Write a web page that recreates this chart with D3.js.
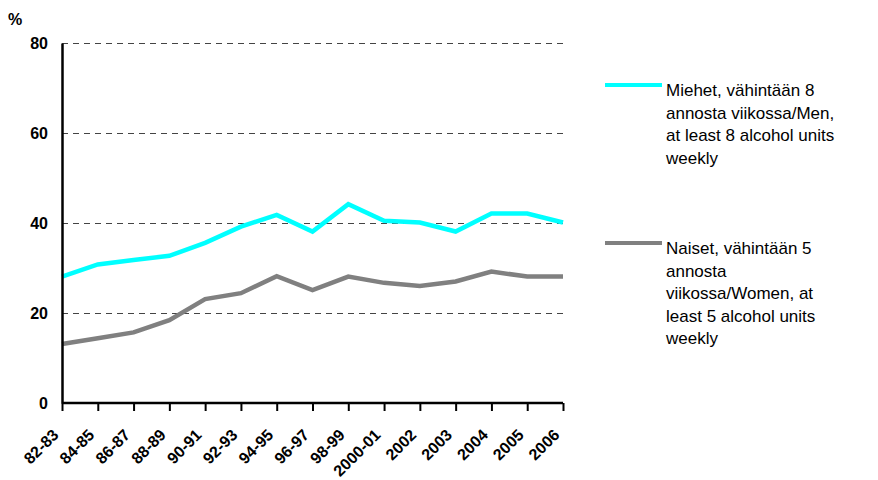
<!DOCTYPE html>
<html>
<head>
<meta charset="utf-8">
<script src="https://cdn.jsdelivr.net/npm/d3@7"></script>
<style>
  body { margin: 0; background: #fff; }
  svg { font-family: Arial, "Liberation Sans", sans-serif; }
</style>
</head>
<body>
<svg id="chart"></svg>
<script>
// data
const years = ["82-83","84-85","86-87","88-89","90-91","92-93","94-95","96-97","98-99","2000-01","2002","2003","2004","2005","2006"];
const men   = [28.1, 30.8, 31.8, 32.7, 35.6, 39.2, 41.8, 38.1, 44.2, 40.5, 40.1, 38.1, 42.1, 42.1, 40.1];
const women = [13.1, 14.4, 15.7, 18.4, 23.1, 24.4, 28.2, 25.1, 28.1, 26.7, 26.0, 27.0, 29.2, 28.1, 28.1];
const yTicks = [0, 20, 40, 60, 80];
const menLabel = ["Miehet, vähintään 8", "annosta viikossa/Men,", "at least 8 alcohol units", "weekly"];
const womenLabel = ["Naiset, vähintään 5", "annosta", "viikossa/Women, at", "least 5 alcohol units", "weekly"];

const W = 878, H = 480;
const margin = { left: 62, top: 43, right: 315, bottom: 77 };
const FONT = "Arial, 'Liberation Sans', sans-serif";

const svg = d3.select("#chart").attr("width", W).attr("height", H);

const x = d3.scalePoint().domain(years).range([margin.left, W - margin.right]);
const y = d3.scaleLinear().domain([0, 80]).range([H - margin.bottom, margin.top]);

// gridlines
svg.append("g")
  .selectAll("line")
  .data(yTicks.filter(d => d > 0))
  .join("line")
  .attr("x1", margin.left).attr("x2", W - margin.right)
  .attr("y1", d => y(d) + 0.5).attr("y2", d => y(d) + 0.5)
  .attr("stroke", "#444")
  .attr("stroke-width", 1)
  .attr("shape-rendering", "crispEdges")
  .attr("stroke-dasharray", "6,5");

// lines
const line = d3.line().x((d, i) => x(years[i])).y(d => y(d));
svg.append("path").datum(women)
  .attr("d", line).attr("fill", "none")
  .attr("stroke", "#808080").attr("stroke-width", 4.5);
svg.append("path").datum(men)
  .attr("d", line).attr("fill", "none")
  .attr("stroke", "#00ffff").attr("stroke-width", 4.5);

// y axis
const yAxis = svg.append("g")
  .attr("transform", `translate(${margin.left},0)`)
  .call(d3.axisLeft(y).tickValues(yTicks).tickSize(0).tickPadding(14));
yAxis.select(".domain").attr("stroke", "#000").attr("stroke-width", 2.5);
yAxis.selectAll("text").attr("font-size", 16).attr("font-weight", "bold").attr("fill", "#000")
  .attr("font-family", FONT);

// x axis
const xAxis = svg.append("g")
  .attr("transform", `translate(0,${y(0)})`)
  .call(d3.axisBottom(x).tickSize(8).tickSizeOuter(0));
xAxis.select(".domain").attr("stroke", "#000").attr("stroke-width", 2.5)
  .attr("d", `M${margin.left},0H${W - margin.right}`);
xAxis.selectAll(".tick line").attr("stroke", "#000").attr("stroke-width", 2);
xAxis.selectAll("text")
  .attr("font-size", 16).attr("font-weight", "bold").attr("fill", "#000")
  .attr("font-family", FONT)
  .attr("text-anchor", "end")
  .attr("dy", null).attr("y", 0)
  .attr("transform", "translate(-3,33) rotate(-45)");

// % label
svg.append("text").attr("x", 8).attr("y", 25)
  .attr("font-size", 16).attr("font-weight", "bold").attr("font-family", FONT).text("%");

// legend
function legend(label, color, ly) {
  svg.append("line").attr("x1", 605).attr("x2", 662).attr("y1", ly).attr("y2", ly)
    .attr("stroke", color).attr("stroke-width", 4);
  svg.append("text").attr("font-size", 17).attr("fill", "#000").attr("font-family", FONT)
    .selectAll("tspan").data(label).join("tspan")
    .attr("x", 666).attr("y", (d, i) => ly + 11 + i * 22.6)
    .text(d => d);
}
legend(menLabel, "#00ffff", 85);
legend(womenLabel, "#808080", 243);
</script>
</body>
</html>
